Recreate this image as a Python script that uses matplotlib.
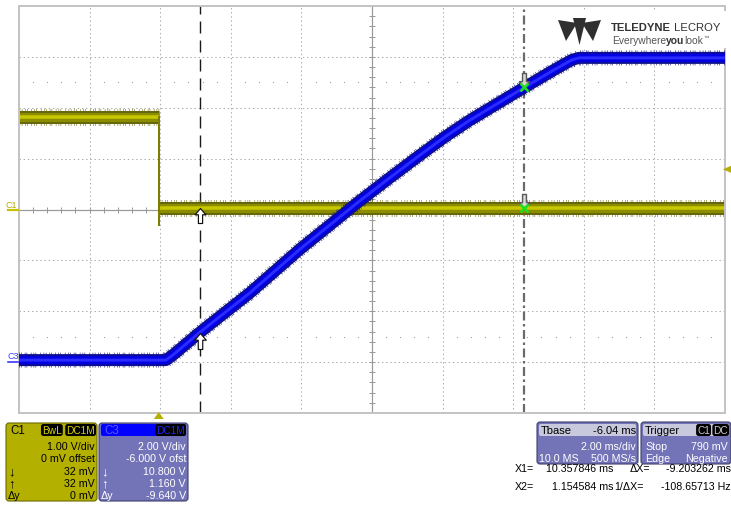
import matplotlib
matplotlib.use("Agg")
import matplotlib.pyplot as plt
import matplotlib.transforms as mtransforms
from matplotlib.patches import FancyBboxPatch, Rectangle, Polygon
from matplotlib.path import Path
import numpy as np

plt.rcParams["font.family"] = ["Liberation Sans", "DejaVu Sans"]
plt.rcParams["lines.scale_dashes"] = False

W, H, DPI = 731, 506, 100

# ---- acquisition settings -------------------------------------------------
ms_per_div = 2.00
t_left = -3.96          # ms at left edge of the graticule
n_xdiv, n_ydiv = 10, 8
c1_vdiv, c1_offset = 1.00, 0.0
c3_vdiv, c3_offset = 2.00, -6.0
trig_level = 0.79       # V on C1
trig_time = 0.0
tbase_delay = -6.04

# ---- waveforms -------------------------------------------------------------
c1_pre_t = [-3.96, 0.0]
c1_pre_v = [1.82, 1.82]
c1_post_t = [0.0, 16.04]
c1_post_v = [0.032, 0.032]
c1_edge_v = [1.82, -0.30]

c3_t = [-3.96, 0.20, 0.40, 1.154584, 2.57, 3.99, 5.63, 6.50, 7.38, 8.10, 8.80, 10.357846, 11.20, 11.70, 11.90, 16.04]
c3_v = [0.08, 0.08, 0.28, 1.16, 2.71, 4.43, 6.27, 7.20, 8.12, 8.85, 9.50, 10.80, 11.49, 11.88, 11.96, 11.96]

# ---- cursors ---------------------------------------------------------------
x1_ms = 10.357846
x2_ms = 1.154584
c1_at_x1, c1_at_x2 = 0.032, 0.032
c3_at_x1, c3_at_x2 = 10.800, 1.160

fig = plt.figure(figsize=(W / DPI, H / DPI), dpi=DPI)
fig.patch.set_facecolor("white")
# pixel transform, origin at the top-left corner
pixT = mtransforms.Affine2D().scale(1 / DPI, -1 / DPI).translate(0, H / DPI) + fig.dpi_scale_trans

ax = fig.add_axes([19 / W, 1 - 414 / H, 706 / W, 407 / H])
t_right = t_left + n_xdiv * ms_per_div
t_center = t_left + n_xdiv / 2 * ms_per_div
ax.set_xlim(t_left, t_right)
c1_center = -c1_offset
ax.set_ylim(c1_center - n_ydiv / 2 * c1_vdiv, c1_center + n_ydiv / 2 * c1_vdiv)
ax3 = ax.twinx()
c3_center = -c3_offset
ax3.set_ylim(c3_center - n_ydiv / 2 * c3_vdiv, c3_center + n_ydiv / 2 * c3_vdiv)

gridc = "#acacac"
ax.set_xticks(t_left + ms_per_div * np.arange(n_xdiv + 1))
ax.set_yticks(c1_center + c1_vdiv * np.arange(-n_ydiv // 2, n_ydiv // 2 + 1))
ax.grid(True, color=gridc, linestyle=(0, (1, 2)), linewidth=0.75)
ax3.set_yticks([])
for a in (ax, ax3):
    a.tick_params(length=0, labelleft=False, labelbottom=False, labelright=False)
    for s in a.spines.values():
        s.set_color("#c4c4c4")
        s.set_linewidth(1.4)
ax.set_axisbelow(True)

def pt(px):
    return px * 72.0 / DPI

# centre axes with sub-division ticks
ax.axhline(c1_center, color="#9a9a9a", lw=pt(1.2), zorder=1)
ax.axvline(t_center, color="#9a9a9a", lw=pt(1.2), zorder=1)
sub_t = t_left + ms_per_div / 5 * np.arange(n_xdiv * 5 + 1)
sub_v = c1_center + c1_vdiv / 5 * np.arange(-n_ydiv * 5 // 2, n_ydiv * 5 // 2 + 1)
ax.plot(sub_t, np.full_like(sub_t, c1_center), ls="none", marker="|", ms=pt(6), mew=pt(1), color="#9a9a9a", zorder=1)
ax.plot(np.full_like(sub_v, t_center), sub_v, ls="none", marker="_", ms=pt(6), mew=pt(1), color="#9a9a9a", zorder=1)
# dotted rows half way between divisions
dot_t = sub_t[np.arange(len(sub_t)) % 5 != 0]
for lvl in (c1_center + 2.5 * c1_vdiv, c1_center - 2.5 * c1_vdiv):
    ax.plot(dot_t, np.full_like(dot_t, lvl), ls="none", marker="s", ms=pt(1.1), mew=0, color="#a0a0a0", zorder=1)

# cursor lines
ax.axvline(x2_ms, color="#1a1a1a", lw=pt(1.4), dashes=(pt(12), pt(7)), zorder=1.5)
ax.axvline(x1_ms, color="#6a6a6a", lw=pt(2.2), dashes=(pt(9), pt(3.5), pt(2.5), pt(3.5)), zorder=1.5)

fringe = [pt(v) for v in (0.7, 1.6, 0.7, 2.8, 0.7, 1.0, 0.7, 3.6, 0.7, 2.0, 0.7, 1.3, 0.7, 4.2, 0.7, 2.4)]

def band(axis, t, v, layers, fringe_w, fringe_c, z):
    axis.plot(t, v, color=fringe_c, lw=pt(fringe_w), dashes=fringe, solid_capstyle="butt",
              dash_capstyle="butt", zorder=z, alpha=0.8)
    for i, (w, c) in enumerate(layers):
        axis.plot(t, v, color=c, lw=pt(w), solid_capstyle="butt", solid_joinstyle="round", zorder=z + 0.1 * (i + 1))

c1_layers = [(13, "#66660c"), (9, "#8c8c00"), (3.5, "#c8c800")]
band(ax, c1_pre_t, c1_pre_v, c1_layers, 17, "#6e6e10", 3)
band(ax, c1_post_t, c1_post_v, c1_layers, 17, "#6e6e10", 3)
ax.plot([trig_time, trig_time], c1_edge_v, color="#7d7d00", lw=pt(2), zorder=3.5)

c3_layers = [(12, "#10108a"), (8.5, "#0000e0"), (3, "#2b2bff")]
band(ax3, c3_t, c3_v, c3_layers, 15, "#0c0c78", 3)

# cursor markers
up_arrow = Path([(0, 0), (0.36, -0.42), (0.14, -0.42), (0.14, -1), (-0.14, -1), (-0.14, -0.42), (-0.36, -0.42), (0, 0)],
                [Path.MOVETO] + [Path.LINETO] * 6 + [Path.CLOSEPOLY])
down_arrow = Path(up_arrow.vertices * [1, -1], up_arrow.codes)
ax.plot([x2_ms], [c1_at_x2], marker=up_arrow, ms=pt(30), mfc="white", mec="#111111", mew=pt(1.2), ls="none", zorder=6)
ax3.plot([x2_ms], [c3_at_x2], marker=up_arrow, ms=pt(32), mfc="white", mec="#111111", mew=pt(1.2), ls="none", zorder=6)
for axis, val in ((ax, c1_at_x1), (ax3, c3_at_x1)):
    axis.plot([x1_ms], [val], marker=down_arrow, ms=pt(28), mfc="#d8d8d8", mec="#5a5a5a", mew=pt(1.4), ls="none", zorder=6)
    axis.plot([x1_ms], [val], marker=(4, 2, 45), ms=pt(11), mec="#1ee01e", mew=pt(2.2), ls="none", zorder=7)

# channel ground markers on the left
bl = mtransforms.blended_transform_factory(pixT, ax.transData)
fig.text(6, c1_center, "C1", transform=bl, fontsize=6.5, color="#b3ab00", va="bottom", ha="left")
fig.add_artist(plt.Line2D([8, 18], [c1_center, c1_center], transform=bl, color="#c8c000", lw=pt(2.2)))
bl3 = mtransforms.blended_transform_factory(pixT, ax3.transData)
fig.text(7, 0.1, "C3", transform=bl3, fontsize=6.5, color="#4040ff", va="bottom", ha="left")
fig.add_artist(plt.Line2D([8, 18], [0.0, 0.0], transform=bl3, color="#3030ff", lw=pt(1.6)))

# trigger markers
blx = mtransforms.blended_transform_factory(ax.transData, pixT)
fig.add_artist(Polygon([[trig_time - 0.14, 420], [trig_time + 0.14, 420], [trig_time, 413]], closed=True,
                       transform=blx, fc="#b8b000", ec="none"))
fig.add_artist(Polygon([[731, trig_level + 0.07], [731, trig_level - 0.07], [723, trig_level]], closed=True,
                       transform=bl, fc="#b8b000", ec="none"))

# ---- logo --------------------------------------------------------------
fig.add_artist(Rectangle((556, 12), 170, 37, transform=pixT, fc="white", ec="none", zorder=5))
logo_c = "#2f2f2f"
for poly in ([(558, 21), (577, 24), (566, 42)],
             [(601, 21), (582, 24), (593, 42)],
             [(573, 19), (586, 19), (579.5, 46)]):
    fig.add_artist(Polygon(poly, closed=True, transform=pixT, fc=logo_c, ec="none", zorder=6))
LF = 8.1
t_a = fig.text(611, 33, "TELEDYNE", transform=pixT, fontsize=LF, fontweight="bold", color="#333333",
               va="bottom", ha="left", zorder=6)
fig.add_artist(matplotlib.text.Annotation(" LECROY", xy=(1, 0), xycoords=t_a, fontsize=LF, color="#333333",
                                           va="bottom", ha="left", zorder=6))
EF = 7.4
t_b = fig.text(612, 46, "Everywhere", transform=pixT, fontsize=EF, color="#555555", va="bottom", ha="left", zorder=6)
t_c = matplotlib.text.Annotation("you", xy=(1, 0), xycoords=t_b, fontsize=EF, fontweight="bold", color="#333333",
                                 va="bottom", ha="left", zorder=6)
fig.add_artist(t_c)
t_d = matplotlib.text.Annotation("look", xy=(1, 0), xycoords=t_c, fontsize=EF, color="#555555",
                                 va="bottom", ha="left", zorder=6)
fig.add_artist(t_d)
fig.add_artist(matplotlib.text.Annotation("\u2122", xy=(1, 0.55), xycoords=t_d, fontsize=4, color="#555555",
                                          va="bottom", ha="left", zorder=6))

# ---- readout boxes --------------------------------------------------------
FS = 7.7

def rbox(x0, y0, x1, y1, fc, ec, r=3.0, z=4):
    fig.add_artist(FancyBboxPatch((x0, y0), x1 - x0, y1 - y0, boxstyle=f"round,pad=0,rounding_size={r}",
                                  transform=pixT, fc=fc, ec=ec, lw=0.8, zorder=z))

def txt(x, y, s, color, ha="left", weight="normal", fs=FS, **kw):
    fig.text(x, y, s, transform=pixT, fontsize=fs, color=color, ha=ha, va="center", fontweight=weight, zorder=6, **kw)

def tag(x, y, s, color, ha="left", fs=FS):
    txt(x, y, s, color, ha=ha, fs=fs, bbox=dict(boxstyle="round,pad=0.1,rounding_size=0.25", fc="black", ec="none"))

def row_label(x, y, s, color):
    # arrow glyphs are drawn a little larger than the rest of the row
    txt(x, y, s, color, fs=9.5 if s in ("\u2193", "\u2191") else FS)

# C1
rbox(6, 424, 97, 502, "#b4b000", "#6a6a00")
txt(10, 431, "C1", "black", fs=8.3)
tag(42, 431, "BwL", "#d6d200", fs=7.3)
tag(95, 431, "DC1M", "#d6d200", ha="right", fs=7.3)
c1_rows = [("", f"{c1_vdiv:.2f} V/div"), ("", f"{c1_offset * 1000:.0f} mV offset"),
           ("\u2193", f"{c1_at_x1 * 1000:.0f} mV"), ("\u2191", f"{c1_at_x2 * 1000:.0f} mV"),
           ("\u0394y", f"{(c1_at_x2 - c1_at_x1) * 1000:.0f} mV")]
for (lab, val), yy in zip(c1_rows, [447, 459, 472, 484, 496]):
    txt(95, yy, val, "black", ha="right")
    if lab:
        row_label(8, yy, lab, "black")

# C3
rbox(99, 424, 188, 502, "#7373b7", "#40406e")
rbox(101, 425, 186, 437, "#0000ff", "none", r=2, z=4.5)
txt(104, 431, "C3", "#5a5aff", fs=8.3)
tag(185, 431, "DC1M", "#2424ff", ha="right", fs=7.3)
c3_rows = [("", f"{c3_vdiv:.2f} V/div"), ("", f"{c3_offset:.3f} V ofst"),
           ("\u2193", f"{c3_at_x1:.3f} V"), ("\u2191", f"{c3_at_x2:.3f} V"),
           ("\u0394y", f"{c3_at_x2 - c3_at_x1:.3f} V")]
for (lab, val), yy in zip(c3_rows, [447, 459, 472, 484, 496]):
    txt(186, yy, val, "white", ha="right")
    if lab:
        row_label(101, yy, lab, "white")

# timebase
rbox(537, 423, 638, 465, "#7373b7", "#40406e")
rbox(539, 425, 636, 437, "#c9c9dd", "none", r=2, z=4.5)
txt(541, 431, "Tbase", "black", fs=8)
txt(636, 431, f"{tbase_delay:.2f} ms", "black", ha="right", fs=8)
txt(636, 447, f"{ms_per_div:.2f} ms/div", "white", ha="right")
txt(539, 459, "10.0 MS", "white")
txt(636, 459, "500 MS/s", "white", ha="right")

# trigger
rbox(641, 423, 731, 465, "#7373b7", "#40406e")
rbox(643, 425, 729, 437, "#c9c9dd", "none", r=2, z=4.5)
txt(645, 431, "Trigger", "black", fs=8)
tag(710, 431, "C1", "#c8c8c8", ha="right", fs=7.3)
tag(728, 431, "DC", "#c8c8c8", ha="right", fs=7.3)
txt(645, 447, "Stop", "white")
txt(728, 447, f"{trig_level * 1000:.0f} mV", "white", ha="right")
txt(645, 459, "Edge", "white")
txt(728, 459, "Negative", "white", ha="right")

# cursor readout
dx = x2_ms - x1_ms
txt(515, 469, "X1=", "black")
txt(613, 469, f"{x1_ms:.6f} ms", "black", ha="right")
txt(630, 469, "\u0394X=", "black")
txt(731, 469, f"{dx:.6f} ms", "black", ha="right")
txt(515, 487, "X2=", "black")
txt(613, 487, f"{x2_ms:.6f} ms", "black", ha="right")
txt(614, 487, "1/\u0394X=", "black")
txt(731, 487, f"{1000.0 / dx:.5f} Hz", "black", ha="right")

fig.savefig("out.png", dpi=DPI)
